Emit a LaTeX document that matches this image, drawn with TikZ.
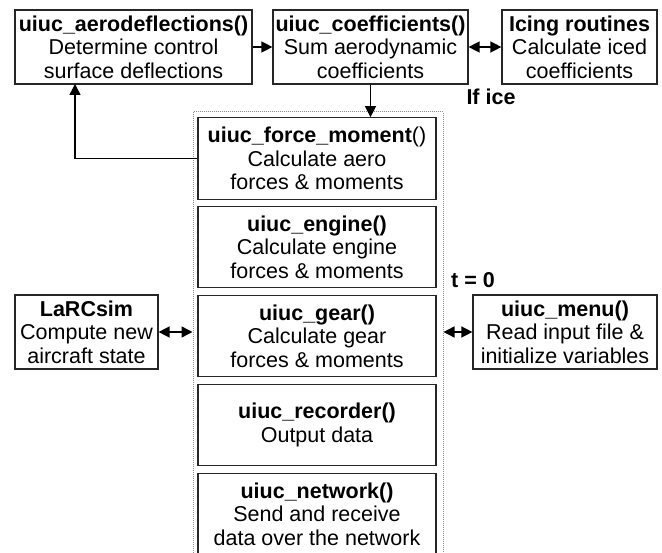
\documentclass[tikz,border=0pt]{standalone}
\usepackage{fontspec}
\setmainfont{Liberation Sans}
\usetikzlibrary{arrows.meta}
\begin{document}
\begin{tikzpicture}[x=1pt,y=-1pt,
  txt/.style={font=\fontsize{21.5}{23.5}\selectfont},
  box/.style={txt,draw=black!85,line width=1.2pt,inner sep=0pt,align=center,
    minimum height=74pt},
  midbox/.style={box,minimum width=238pt,minimum height=81.5pt},
  group/.style={draw=black!45,line width=1pt,densely dotted,inner sep=0pt},
  tag/.style={txt,font=\fontsize{21.5}{23.5}\selectfont\bfseries,inner sep=0pt},
  tip/.style={Triangle[length=11pt,width=11pt]},
  conn/.style={line width=1.4pt,black},
  arr/.style={conn,-{Triangle[length=11pt,width=11pt]}},
  darr/.style={conn,{Triangle[length=11pt,width=11pt]}-{Triangle[length=11pt,width=11pt]}}
]
\useasboundingbox (0,0) rectangle (662,553);

% top row
\node[box,minimum width=237pt] (aero) at (133.5,47)
  {\textbf{uiuc\_aerodeflections()}\\Determine control\\surface deflections};
\node[box,minimum width=195pt] (coeff) at (370.5,47)
  {\textbf{uiuc\_coefficients()}\\Sum aerodynamic\\coefficients};
\node[box,minimum width=155pt] (icing) at (579.5,47)
  {\textbf{Icing routines}\\Calculate iced\\coefficients};
\node[tag] (ifice) at (491,97) {If ice};

% grouped routines
\node[group,minimum width=250pt,minimum height=450pt] (grp) at (318,337) {};
\node[midbox] (force) at (317,158.5)
  {\textbf{uiuc\_force\_moment}()\\Calculate aero\\forces \& moments};
\node[midbox] (engine) at (317,247)
  {\textbf{uiuc\_engine()}\\Calculate engine\\forces \& moments};
\node[midbox] (gear) at (317,336)
  {\textbf{uiuc\_gear()}\\Calculate gear\\forces \& moments};
\node[midbox] (recorder) at (317,425)
  {\textbf{uiuc\_recorder()}\\Output data};
\node[midbox] (network) at (317,514)
  {\textbf{uiuc\_network()}\\Send and receive\\data over the network};

% side boxes
\node[box,minimum width=143pt] (larc) at (86.5,332)
  {\textbf{LaRCsim}\\Compute new\\aircraft state};
\node[box,minimum width=184pt] (menu) at (565,332)
  {\textbf{uiuc\_menu()}\\Read input file \&\\initialize variables};
\node[tag] (tzero) at (473,280) {t = 0};

% connectors
\coordinate (aerotap) at (75,84);
\draw[arr] (aero.east) -- (coeff.west);
\draw[darr] (coeff.east) -- (icing.west);
\draw[arr] (coeff.south) -- (coeff.south |- force.north);
\draw[arr] (force.west) -| (aerotap);
\draw[darr] (larc.east) -- (larc.east -| grp.west);
\draw[darr] (menu.west -| grp.east) -- (menu.west);
\end{tikzpicture}
\end{document}
